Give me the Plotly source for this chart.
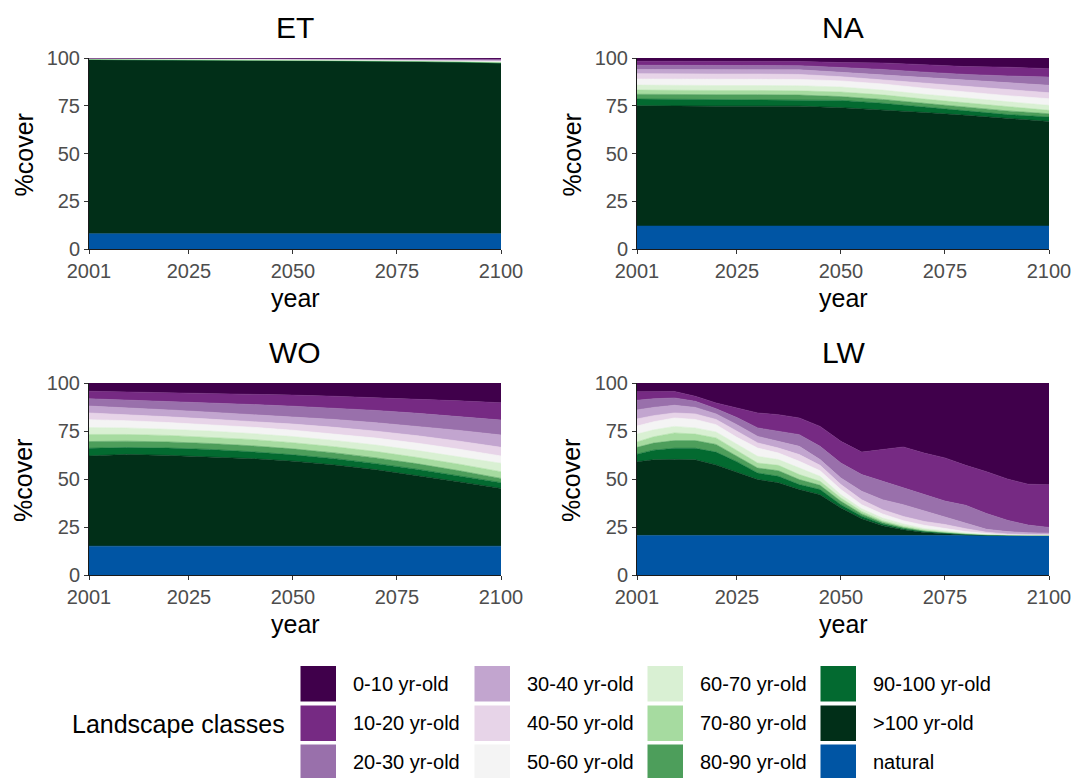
import plotly.graph_objects as go

# ---------------- data ----------------
classes = ["0-10 yr-old", "10-20 yr-old", "20-30 yr-old", "30-40 yr-old",
           "40-50 yr-old", "50-60 yr-old", "60-70 yr-old", "70-80 yr-old",
           "80-90 yr-old", "90-100 yr-old", ">100 yr-old", "natural"]
colors = ["#40004b", "#762a83", "#9970ab", "#c2a5cf", "#e7d4e8", "#f4f4f4",
          "#d9f0d3", "#a6dba0", "#4d9e5b", "#036a30", "#012f18", "#0055a4"]

panel_titles = ["ET", "NA", "WO", "LW"]
x_ticks = [2001, 2025, 2050, 2075, 2100]
y_ticks = [0, 25, 50, 75, 100]

years_10 = [2001, 2010, 2020, 2030, 2040, 2050, 2060, 2070, 2080, 2090, 2100]
years_5 = [2001, 2005, 2010, 2015, 2020, 2025, 2030, 2035, 2040, 2045, 2050,
           2055, 2060, 2065, 2070, 2075, 2080, 2085, 2090, 2095, 2100]

# ET (% cover per class)
et_0_10 = [0.0, 0.1, 0.1, 0.1, 0.15, 0.2, 0.2, 0.25, 0.3, 0.35, 0.5]
et_10_20 = [0.0, 0.05, 0.1, 0.1, 0.1, 0.15, 0.2, 0.2, 0.25, 0.3, 0.35]
et_20_30 = [0.05, 0.05, 0.1, 0.1, 0.1, 0.1, 0.15, 0.2, 0.2, 0.25, 0.3]
et_30_40 = [0.1, 0.1, 0.1, 0.1, 0.1, 0.1, 0.15, 0.15, 0.2, 0.25, 0.3]
et_40_50 = [0.1, 0.1, 0.1, 0.1, 0.1, 0.1, 0.1, 0.15, 0.2, 0.2, 0.3]
et_50_60 = [0.2, 0.15, 0.1, 0.15, 0.15, 0.15, 0.15, 0.15, 0.2, 0.25, 0.3]
et_60_70 = [0.1, 0.1, 0.1, 0.1, 0.1, 0.1, 0.15, 0.15, 0.15, 0.2, 0.2]
et_70_80 = [0.1, 0.1, 0.1, 0.1, 0.1, 0.1, 0.1, 0.15, 0.15, 0.2, 0.2]
et_80_90 = [0.1, 0.1, 0.1, 0.1, 0.1, 0.1, 0.1, 0.1, 0.15, 0.15, 0.15]
et_90_100 = [0.25, 0.15, 0.1, 0.15, 0.15, 0.2, 0.2, 0.2, 0.3, 0.25, 0.2]
et_gt100 = [91.0, 91.0, 91.0, 90.9, 90.85, 90.7, 90.5, 90.3, 89.9, 89.6, 89.2]
et_natural = [8.0, 8.0, 8.0, 8.0, 8.0, 8.0, 8.0, 8.0, 8.0, 8.0, 8.0]

# NA
na_0_10 = [1.7, 1.8, 1.8, 1.8, 1.8, 2.4, 2.6, 3.5, 4.5, 4.8, 5.6]
na_10_20 = [2.1, 2.1, 2.1, 2.1, 2.2, 2.6, 3.4, 3.9, 4.1, 4.6, 4.4]
na_20_30 = [2.2, 2.1, 2.1, 2.1, 2.2, 2.5, 2.8, 3.0, 3.1, 3.6, 4.3]
na_30_40 = [2.2, 2.4, 2.4, 2.4, 2.4, 2.3, 2.6, 2.8, 3.1, 3.5, 3.9]
na_40_50 = [2.8, 2.6, 2.6, 2.6, 2.6, 2.2, 2.2, 2.6, 3.0, 3.2, 3.1]
na_50_60 = [3.2, 3.4, 3.4, 3.4, 3.3, 3.2, 3.2, 3.2, 3.2, 3.3, 3.5]
na_60_70 = [2.6, 2.6, 2.6, 2.6, 2.7, 2.6, 2.5, 2.5, 2.5, 2.5, 2.6]
na_70_80 = [2.2, 2.2, 2.2, 2.2, 2.2, 2.4, 2.4, 2.2, 2.3, 2.2, 1.8]
na_80_90 = [2.5, 2.4, 2.4, 2.4, 2.3, 2.0, 2.0, 2.0, 2.0, 1.9, 1.7]
na_90_100 = [3.5, 3.6, 3.6, 3.6, 3.5, 3.8, 3.5, 2.8, 2.2, 2.1, 2.3]
na_gt100 = [63.0, 62.8, 62.8, 62.8, 62.8, 62.0, 60.8, 59.5, 58.0, 56.3, 54.8]
na_natural = [12.0, 12.0, 12.0, 12.0, 12.0, 12.0, 12.0, 12.0, 12.0, 12.0, 12.0]

# WO
wo_0_10 = [4.3, 4.6, 5.0, 5.4, 5.8, 6.3, 6.9, 7.6, 8.4, 9.3, 10.3]
wo_10_20 = [3.9, 4.2, 4.6, 5.0, 5.4, 5.8, 6.2, 6.7, 7.4, 8.1, 9.0]
wo_20_30 = [3.8, 4.0, 4.4, 4.8, 5.2, 5.5, 5.9, 6.4, 6.8, 7.3, 7.8]
wo_30_40 = [3.6, 3.6, 3.6, 3.6, 3.6, 3.8, 4.1, 4.4, 4.9, 5.6, 6.4]
wo_40_50 = [3.5, 3.2, 3.0, 2.9, 3.0, 3.2, 3.4, 3.6, 3.9, 4.2, 4.5]
wo_50_60 = [4.1, 3.8, 3.5, 3.3, 3.3, 3.3, 3.4, 3.6, 3.8, 3.9, 3.8]
wo_60_70 = [3.6, 3.4, 3.2, 3.2, 3.1, 3.2, 3.3, 3.4, 3.6, 3.9, 4.4]
wo_70_80 = [3.7, 3.5, 3.4, 3.3, 3.3, 3.2, 3.2, 3.3, 3.3, 3.4, 3.5]
wo_80_90 = [3.5, 3.3, 3.2, 3.1, 3.1, 3.1, 3.0, 3.0, 2.9, 2.7, 2.2]
wo_90_100 = [4.0, 3.6, 3.8, 3.8, 3.6, 3.3, 3.3, 3.2, 3.2, 3.1, 3.0]
wo_gt100 = [47.0, 47.8, 47.3, 46.6, 45.6, 44.3, 42.3, 39.8, 36.8, 33.5, 30.1]
wo_natural = [15.0, 15.0, 15.0, 15.0, 15.0, 15.0, 15.0, 15.0, 15.0, 15.0, 15.0]

# LW (5-year steps)
lw_0_10 = [4.5, 4.4, 4.4, 6.9, 10.4, 13.0, 15.6, 16.5, 18.2, 22.6, 30.4,
           36.0, 34.7, 33.3, 36.5, 39.0, 42.9, 46.2, 50.0, 52.7, 53.0]
lw_10_20 = [4.5, 3.8, 3.4, 2.6, 3.0, 5.0, 7.8, 8.6, 8.7, 10.4, 11.3,
            11.7, 16.5, 21.4, 21.5, 22.5, 20.8, 21.8, 21.5, 21.3, 22.2]
lw_20_30 = [5.0, 4.5, 3.8, 3.2, 2.7, 3.7, 4.4, 5.3, 6.1, 6.9, 7.8,
            8.7, 9.6, 8.7, 8.5, 8.5, 9.2, 8.2, 5.9, 4.0, 3.0]
lw_30_40 = [4.7, 4.3, 4.0, 3.4, 2.9, 3.5, 3.4, 3.5, 4.3, 3.0, 3.4,
            4.4, 5.2, 6.1, 5.6, 3.7, 3.0, 1.5, 1.2, 0.8, 0.7]
lw_40_50 = [3.7, 3.2, 2.6, 2.9, 2.7, 3.1, 2.7, 2.6, 3.5, 2.8, 2.6,
            2.6, 2.2, 2.2, 2.0, 2.0, 1.5, 0.7, 0.4, 0.3, 0.2]
lw_50_60 = [4.2, 4.2, 4.4, 4.4, 3.8, 3.7, 4.3, 3.4, 3.5, 2.9, 2.7,
            2.1, 2.1, 1.7, 1.7, 1.3, 0.7, 0.4, 0.1, 0.1, 0.1]
lw_60_70 = [4.1, 3.6, 3.4, 3.2, 3.1, 3.1, 3.5, 3.0, 3.4, 2.6, 1.7,
            1.4, 1.4, 1.2, 0.7, 0.6, 0.4, 0.2, 0.1, 0.05, 0.05]
lw_70_80 = [2.8, 3.3, 4.0, 3.4, 3.4, 2.9, 2.6, 2.8, 2.6, 2.1, 1.7,
            1.3, 0.9, 0.7, 0.6, 0.4, 0.2, 0.1, 0.05, 0.05, 0.05]
lw_80_90 = [3.6, 3.7, 4.0, 4.0, 4.0, 3.0, 2.6, 2.9, 2.6, 2.2, 1.8,
            1.2, 0.8, 0.6, 0.3, 0.3, 0.2, 0.1, 0.05, 0.05, 0.05]
lw_90_100 = [3.9, 5.0, 5.8, 6.0, 6.7, 5.5, 3.4, 3.4, 2.6, 2.7, 1.7,
             1.3, 0.9, 0.5, 0.4, 0.2, 0.2, 0.1, 0.05, 0.05, 0.05]
lw_gt100 = [38.4, 39.4, 39.6, 39.4, 36.7, 32.9, 29.1, 27.4, 23.9, 21.2, 14.3,
            8.7, 5.1, 3.0, 1.6, 0.9, 0.3, 0.1, 0.05, 0.0, 0.0]
lw_natural = [20.6, 20.6, 20.6, 20.6, 20.6, 20.6, 20.6, 20.6, 20.6, 20.6, 20.6,
              20.6, 20.6, 20.6, 20.6, 20.6, 20.6, 20.6, 20.6, 20.6, 20.6]

panels = [
    (years_10, [et_0_10, et_10_20, et_20_30, et_30_40, et_40_50, et_50_60,
                et_60_70, et_70_80, et_80_90, et_90_100, et_gt100, et_natural]),
    (years_10, [na_0_10, na_10_20, na_20_30, na_30_40, na_40_50, na_50_60,
                na_60_70, na_70_80, na_80_90, na_90_100, na_gt100, na_natural]),
    (years_10, [wo_0_10, wo_10_20, wo_20_30, wo_30_40, wo_40_50, wo_50_60,
                wo_60_70, wo_70_80, wo_80_90, wo_90_100, wo_gt100, wo_natural]),
    (years_5, [lw_0_10, lw_10_20, lw_20_30, lw_30_40, lw_40_50, lw_50_60,
               lw_60_70, lw_70_80, lw_80_90, lw_90_100, lw_gt100, lw_natural]),
]

# ---------------- layout geometry (page pixels, body margin removed) ----------------
W, H = 1072, 778
col_px = [(89, 501), (637, 1049)]
row_px = [(58, 249), (383, 575)]

def px_x(x):
    return x / W

def px_y(y):
    return 1 - y / H

fig = go.Figure()
FONT = "Liberation Sans, Arial, sans-serif"
annotations = []
shapes = []

for i, (yrs, series) in enumerate(panels):
    r, c = divmod(i, 2)
    ax = "" if i == 0 else str(i + 1)
    xa, ya = "x" + ax, "y" + ax
    # stack bottom-up: natural, >100, ..., 0-10
    for k in range(len(classes) - 1, -1, -1):
        fig.add_trace(go.Scatter(
            x=yrs, y=series[k], mode="lines", stackgroup="s%d" % i,
            line=dict(width=0.6, color=colors[k]), fillcolor=colors[k],
            name=classes[k], showlegend=False, xaxis=xa, yaxis=ya,
            hoverinfo="x+y+name"))
    x0, x1 = col_px[c]
    y0, y1 = row_px[r]
    axis_common = dict(showline=True, linecolor="#1a1a1a", linewidth=1,
                       ticks="outside", ticklen=4, tickwidth=1, tickcolor="#333333",
                       tickfont=dict(family=FONT, size=20, color="#4d4d4d"),
                       showgrid=False, zeroline=False, fixedrange=True,
                       automargin=False)
    fig.update_layout(**{
        "xaxis" + ax: dict(domain=[px_x(x0), px_x(x1)], range=[2001, 2100],
                           tickvals=x_ticks, anchor=ya, **axis_common),
        "yaxis" + ax: dict(domain=[px_y(y1), px_y(y0)], range=[0, 100],
                           tickvals=y_ticks, anchor=xa, **axis_common),
    })
    cx = (x0 + x1) / 2
    annotations.append(dict(text=panel_titles[i], x=px_x(cx), y=px_y(y0 - 30.5),
                            xref="paper", yref="paper", showarrow=False,
                            xanchor="center", yanchor="middle",
                            font=dict(family=FONT, size=30, color="black")))
    annotations.append(dict(text="year", x=px_x(cx), y=px_y(y1 + 48.5),
                            xref="paper", yref="paper", showarrow=False,
                            xanchor="center", yanchor="middle",
                            font=dict(family=FONT, size=25, color="black")))
    annotations.append(dict(text="%cover", x=px_x(x0 - 66), y=px_y((y0 + y1) / 2 + 2),
                            xref="paper", yref="paper", showarrow=False,
                            textangle=-90, xanchor="center", yanchor="middle",
                            font=dict(family=FONT, size=25, color="black")))

# ---------------- legend (3 rows x 4 columns of keys) ----------------
key_left = [300.5, 474.5, 647.5, 820.5]
key_top = [666, 705.5, 744.5]
key_size = 35.5
for k, name in enumerate(classes):
    c, r = divmod(k, 3)
    kx, ky = key_left[c], key_top[r]
    shapes.append(dict(type="rect", xref="paper", yref="paper",
                       x0=px_x(kx), x1=px_x(kx + key_size),
                       y0=px_y(ky + key_size), y1=px_y(ky),
                       fillcolor=colors[k], line=dict(width=0)))
    annotations.append(dict(text=name, x=px_x(kx + 50), y=px_y(ky + key_size / 2),
                            xref="paper", yref="paper", showarrow=False,
                            xanchor="left", yanchor="middle",
                            font=dict(family=FONT, size=20, color="black")))
annotations.append(dict(text="Landscape classes", x=px_x(287), y=px_y(723.5),
                        xref="paper", yref="paper", showarrow=False,
                        xanchor="right", yanchor="middle",
                        font=dict(family=FONT, size=25, color="black")))

fig.update_layout(
    width=W, height=H, margin=dict(l=0, r=0, t=0, b=0, autoexpand=False),
    paper_bgcolor="white", plot_bgcolor="white", showlegend=False,
    annotations=annotations, shapes=shapes,
    font=dict(family=FONT),
)

fig.write_html(
    "out.html",
    config={"displayModeBar": False},
    post_script="document.body.style.margin='0';document.body.style.overflow='hidden';",
)
